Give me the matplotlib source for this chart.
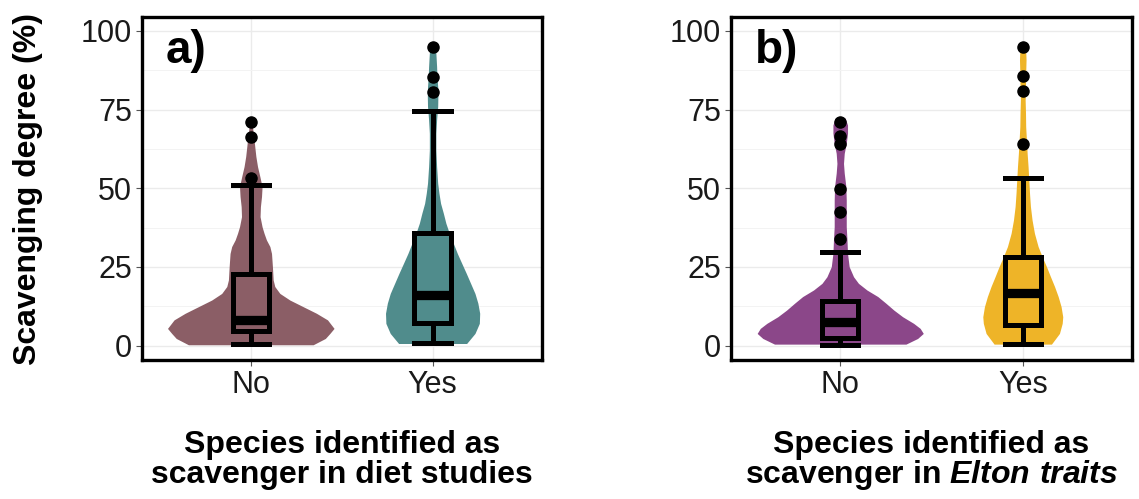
import matplotlib
matplotlib.use("Agg")
import matplotlib.pyplot as plt

plt.rcParams["font.family"] = ["Liberation Sans", "DejaVu Sans"]
plt.rcParams["mathtext.fontset"] = "custom"
plt.rcParams["mathtext.it"] = "Liberation Sans:italic:bold"
plt.rcParams["mathtext.rm"] = "Liberation Sans:bold"

groups = ["No", "Yes"]

# violin outlines: height (%) and half width (x units)
a_no_y = [0.3, 2.3, 3.9, 5.5, 8.2, 10.3, 12.4, 14.5, 16.6, 18.8, 20.9, 25.1, 29.3, 31.5,
          33.6, 35.7, 37.8, 41.0, 44.2, 47.4, 50.5, 53.7, 56.9, 60.1, 63.2, 65.4, 67.5, 70.5]
a_no_hw = [0.343, 0.41, 0.435, 0.458, 0.422, 0.361, 0.288, 0.215, 0.160, 0.132, 0.123, 0.119,
           0.114, 0.105, 0.086, 0.073, 0.062, 0.051, 0.053, 0.059, 0.062, 0.050, 0.037, 0.028,
           0.022, 0.018, 0.013, 0.008]

a_yes_y = [0.7, 3.9, 7.1, 10.3, 13.5, 16.6, 19.8, 23.0, 26.2, 29.3, 32.5, 35.7, 38.9, 42.1,
           45.2, 48.4, 51.6, 56.9, 62.2, 67.5, 71.7, 76.0, 79.1, 82.3, 85.5, 88.7, 92.9, 95.0]
a_yes_hw = [0.187, 0.233, 0.257, 0.259, 0.249, 0.233, 0.209, 0.185, 0.160, 0.136, 0.114, 0.092,
            0.073, 0.059, 0.044, 0.035, 0.028, 0.022, 0.018, 0.018, 0.022, 0.028, 0.029, 0.028,
            0.024, 0.022, 0.018, 0.013]

b_no_y = [0.5, 2.3, 3.9, 5.5, 7.1, 9.2, 11.3, 13.5, 15.6, 17.7, 19.8, 21.9, 25.1, 29.3, 33.6,
          37.8, 42.1, 46.3, 50.5, 54.8, 57.9, 61.1, 64.3, 67.5, 70.1, 72.3]
b_no_hw = [0.360, 0.424, 0.455, 0.438, 0.402, 0.342, 0.294, 0.250, 0.206, 0.146, 0.100, 0.073,
           0.049, 0.040, 0.037, 0.033, 0.033, 0.033, 0.031, 0.022, 0.018, 0.022, 0.033, 0.040,
           0.040, 0.027]

b_yes_y = [0.5, 3.9, 7.1, 9.2, 12.4, 15.6, 18.8, 21.9, 25.1, 28.3, 31.5, 35.7, 39.9, 44.2,
           48.4, 52.7, 56.9, 61.1, 65.4, 69.6, 73.8, 78.1, 82.3, 86.6, 90.8, 94.0, 95.6]
b_yes_hw = [0.157, 0.201, 0.216, 0.219, 0.210, 0.194, 0.174, 0.152, 0.130, 0.106, 0.084, 0.064,
            0.051, 0.042, 0.037, 0.033, 0.029, 0.024, 0.020, 0.016, 0.015, 0.013, 0.015, 0.016,
            0.018, 0.016, 0.011]

# boxplot summaries: lower whisker, Q1, median, Q3, upper whisker
a_no_box = [0.5, 4.6, 8.3, 22.8, 51.0]
a_yes_box = [1.0, 7.1, 16.1, 35.7, 74.4]
b_no_box = [0.3, 2.5, 7.5, 14.1, 29.9]
b_yes_box = [0.5, 6.6, 16.6, 28.3, 53.2]

a_no_out = [53.2, 66.4, 71.2]
a_yes_out = [80.7, 85.5, 94.8]
b_no_out = [33.8, 42.4, 49.8, 64.1, 66.6, 71.2]
b_yes_out = [64.0, 80.9, 85.7, 94.8]

colors_a = ["#8B5E66", "#508C8C"]
colors_b = ["#8B4789", "#EEB428"]


def draw_panel(ax, violins, boxes, outliers, colors, tag):
    for pos, (vy, vw), col in zip([1, 2], violins, colors):
        left = [pos - w for w in vw]
        right = [pos + w for w in vw]
        ax.fill_betweenx(vy, left, right, color=col, lw=0, zorder=2)
    stats = [dict(whislo=b[0], q1=b[1], med=b[2], q3=b[3], whishi=b[4], fliers=[]) for b in boxes]
    ax.bxp(stats, positions=[1, 2], widths=0.2, capwidths=0.2, showfliers=False,
           patch_artist=True, manage_ticks=False, zorder=3,
           boxprops=dict(facecolor="none", edgecolor="black", linewidth=3.6),
           medianprops=dict(color="black", linewidth=6.7, solid_capstyle="butt"),
           whiskerprops=dict(color="black", linewidth=3.6),
           capprops=dict(color="black", linewidth=3.6))
    for pos, pts in zip([1, 2], outliers):
        ax.plot([pos] * len(pts), pts, "o", color="black", ms=8, zorder=4)

    ax.set_xlim(0.4, 2.6)
    ax.set_ylim(-4.54, 104.5)
    ax.set_xticks([1, 2], groups)
    ax.set_yticks([0, 25, 50, 75, 100])
    ax.set_yticks([12.5, 37.5, 62.5, 87.5], minor=True)
    ax.tick_params(which="major", labelsize=22, length=4, width=0.8, color="#555555",
                   labelcolor="#1A1A1A", pad=3)
    ax.tick_params(which="minor", length=0)
    ax.grid(which="major", color="#EBEBEB", lw=1.0)
    ax.grid(which="minor", axis="y", color="#F3F3F3", lw=0.7)
    ax.set_axisbelow(True)
    for s in ax.spines.values():
        s.set_linewidth(2.4)
        s.set_color("black")
    ax.text(0.53, 93.7, tag, fontsize=33, fontweight="bold", ha="left", va="center", zorder=5)


fig = plt.figure(figsize=(11.39, 4.99), dpi=100)
ax1 = fig.add_axes([141.7 / 1139, 1 - 360 / 499, 400 / 1139, 343.3 / 499])
ax2 = fig.add_axes([730.7 / 1139, 1 - 360 / 499, 401.6 / 1139, 343.3 / 499])

draw_panel(ax1, [(a_no_y, a_no_hw), (a_yes_y, a_yes_hw)], [a_no_box, a_yes_box],
           [a_no_out, a_yes_out], colors_a, "a)")
draw_panel(ax2, [(b_no_y, b_no_hw), (b_yes_y, b_yes_hw)], [b_no_box, b_yes_box],
           [b_no_out, b_yes_out], colors_b, "b)")

fig.text(28 / 1139, 1 - 189 / 499, "Scavenging degree (%)", rotation=90, fontsize=23,
         fontweight="bold", ha="center", va="center")

cx1 = (141.7 + 200) / 1139
cx2 = (730.7 + 200.8) / 1139
fig.text(cx1, 1 - 453 / 499, "Species identified as", fontsize=23, fontweight="bold",
         ha="center", va="baseline")
fig.text(cx1, 1 - 483 / 499, "scavenger in diet studies", fontsize=23, fontweight="bold",
         ha="center", va="baseline")
fig.text(cx2, 1 - 453 / 499, "Species identified as", fontsize=23, fontweight="bold",
         ha="center", va="baseline")
fig.text(cx2, 1 - 483 / 499, r"scavenger in $\mathit{Elton\ traits}$", fontsize=23,
         fontweight="bold", ha="center", va="baseline")

fig.savefig("out.png", dpi=100)
